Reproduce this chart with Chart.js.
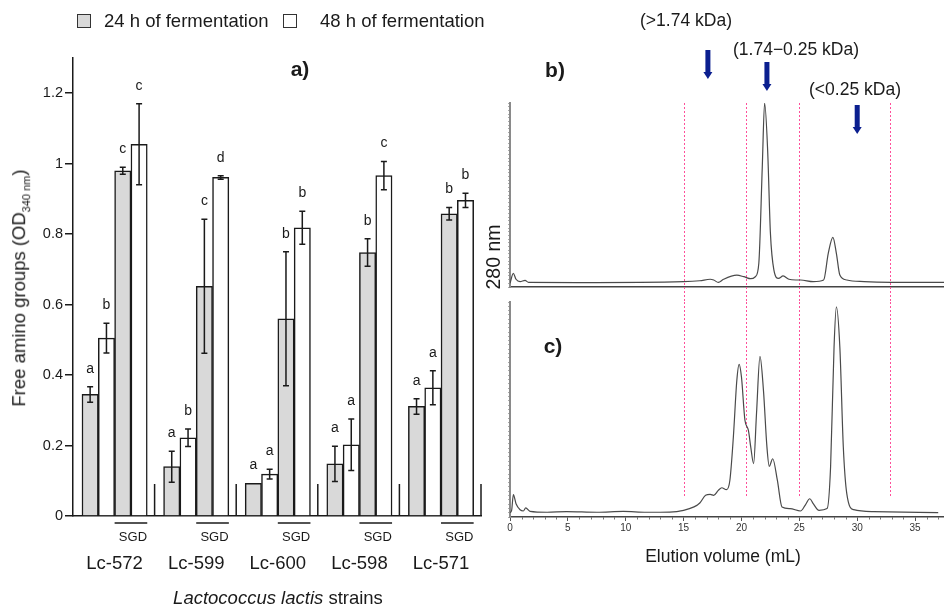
<!DOCTYPE html>
<html>
<head>
<meta charset="utf-8">
<script src="https://cdn.jsdelivr.net/npm/chart.js@4.4.1/dist/chart.umd.min.js"></script>
<style>
body { margin: 0; background: #fff; font-family: Arial, "Liberation Sans", sans-serif; color: #1a1a1a; }
#page { position: relative; width: 944px; height: 610px; overflow: hidden; }
canvas { position: absolute; }
.c { position: absolute; white-space: nowrap; transform: translate(-50%, -50%); line-height: 1; }
.l { position: absolute; white-space: nowrap; transform: translateY(-50%); line-height: 1; }
.box { position: absolute; width: 14px; height: 14px; border: 1px solid #333; box-sizing: border-box; }
</style>
</head>
<body>
<div id="page">
  <canvas id="bars" width="490" height="610" style="left:0;top:0"></canvas>
  <canvas id="chromB" width="444" height="302" style="left:500px;top:0"></canvas>
  <canvas id="chromC" width="444" height="246" style="left:500px;top:294px"></canvas>

  <div class="box" style="left:77px;top:14px;background:#d9d9d9"></div>
  <div class="l" style="left:104px;top:21px;font-size:18.5px">24 h of fermentation</div>
  <div class="box" style="left:283px;top:14px;background:#fff"></div>
  <div class="l" style="left:320px;top:21px;font-size:18.5px">48 h of fermentation</div>

  <div class="c" style="left:300px;top:68px;font-size:21px;font-weight:bold">a)</div>
  <div class="c" style="left:21px;top:288px;font-size:18.5px;transform:translate(-50%,-50%) rotate(-90deg)">Free amino groups (OD<sub style="font-size:11px">340 nm</sub>)</div>
  <div class="c" style="left:278px;top:598px;font-size:18.5px"><i>Lactococcus lactis</i> strains</div>

  <div class="c" style="left:555px;top:69px;font-size:21px;font-weight:bold">b)</div>
  <div class="c" style="left:553px;top:345px;font-size:21px;font-weight:bold">c)</div>
  <div class="c" style="left:686px;top:21px;font-size:17.5px">(&gt;1.74 kDa)</div>
  <div class="c" style="left:796px;top:50px;font-size:17.5px">(1.74&minus;0.25 kDa)</div>
  <div class="c" style="left:855px;top:90px;font-size:17.5px">(&lt;0.25 kDa)</div>
  <div class="c" style="left:494px;top:257px;font-size:19.5px;transform:translate(-50%,-50%) rotate(-90deg)">280 nm</div>
  <div class="c" style="left:723px;top:557px;font-size:17.5px">Elution volume (mL)</div>
</div>

<script>
// panel a) - free amino groups, each strain: [broth, SGD]
var strains = ["Lc-572", "Lc-599", "Lc-600", "Lc-598", "Lc-571"];
var h24 = [0.345, 0.980, 0.140, 0.652, 0.093, 0.560, 0.148, 0.748, 0.311, 0.858];
var h24Err = [0.022, 0.010, 0.044, 0.190, 0, 0.190, 0.050, 0.039, 0.022, 0.018];
var h24Letters = ["a", "c", "a", "c", "a", "b", "a", "b", "a", "b"];
var h48 = [0.505, 1.055, 0.222, 0.961, 0.119, 0.818, 0.202, 0.966, 0.364, 0.896];
var h48Err = [0.042, 0.115, 0.025, 0.005, 0.014, 0.047, 0.073, 0.040, 0.048, 0.020];
var h48Letters = ["b", "c", "b", "d", "a", "b", "a", "c", "a", "b"];
var yTicks = [0, 0.2, 0.4, 0.6, 0.8, 1, 1.2];

// panels b) and c) - chromatograms (mL, relative absorbance)
var elutionB = [0.0, 0.29, 0.52, 0.87, 1.3, 1.6, 6.0, 15.0, 16.4, 17.3, 17.6, 18.0, 18.45, 19.6, 20.2, 20.8, 21.2, 21.5, 21.8, 22.0, 22.26, 22.5, 22.8, 23.2, 23.6, 24.1, 24.7, 25.1, 26.2, 27.1, 27.5, 27.9, 28.2, 28.5, 29.1, 30.6, 32.9, 37.5];
var absB = [2.0, 7.4, 4.2, 2.9, 3.6, 2.5, 2.4, 2.9, 3.4, 4.2, 3.8, 2.5, 4.2, 6.4, 5.6, 4.5, 5.6, 12.9, 65.5, 100, 74.6, 29.4, 9.3, 4.7, 6.0, 4.2, 3.8, 3.8, 2.9, 3.8, 18.3, 27.0, 18.3, 6.5, 3.8, 2.9, 2.5, 2.5];
var elutionC = [0.0, 0.14, 0.29, 0.52, 0.87, 1.15, 1.36, 1.73, 3.2, 4.9, 7.5, 9.8, 11.8, 13.8, 15.0, 15.9, 16.4, 16.9, 17.3, 17.6, 18.0, 18.3, 18.7, 19.0, 19.3, 19.6, 19.8, 20.0, 20.3, 20.6, 20.8, 21.05, 21.3, 21.6, 21.9, 22.2, 22.4, 22.7, 23.1, 23.5, 24.2, 25.1, 25.5, 25.9, 26.2, 26.7, 27.4, 27.7, 28.0, 28.2, 28.5, 28.8, 29.1, 29.7, 31.4, 37.0];
var absC = [2.0, 3.1, 10.4, 6.2, 3.4, 2.8, 4.2, 2.6, 2.2, 2.5, 2.2, 2.6, 2.2, 2.3, 3.1, 4.7, 6.5, 10.1, 10.5, 10.1, 12.4, 13.6, 12.7, 17.1, 37.2, 63.6, 71.0, 65.1, 45.0, 40.3, 32.6, 24.8, 48.1, 74.7, 58.9, 32.6, 23.6, 27.1, 17.1, 4.7, 3.9, 2.8, 5.4, 8.5, 6.2, 3.1, 3.9, 23.3, 79.1, 97.7, 79.1, 32.6, 10.9, 3.4, 2.5, 2.0];
var fractionCuts = [15, 20.4, 25, 32.8];
var arrowAt = [17.1, 22.2, 30.0];

// x position of a bar pair: 5 units per strain, pair 0 = broth, pair 1 = SGD
function pairX(i) { return 5 * Math.floor(i / 2) + 2 * (i % 2) + 1.55; }
function toPoints(xs, ys) { return xs.map(function (x, i) { return { x: x, y: ys[i] }; }); }

var barExtras = {
  id: "barExtras",
  afterDatasetsDraw: function (chart) {
    var ctx = chart.ctx, xs = chart.scales.x, ys = chart.scales.y;
    var y0 = ys.getPixelForValue(0);
    var errs = [h24Err, h48Err], letters = [h24Letters, h48Letters], means = [h24, h48];
    ctx.save();
    ctx.strokeStyle = "#1a1a1a";
    ctx.fillStyle = "#1a1a1a";
    ctx.lineWidth = 1.5;
    for (var d = 0; d < 2; d++) {
      var meta = chart.getDatasetMeta(d);
      meta.data.forEach(function (bar, i) {
        var e = errs[d][i], m = means[d][i];
        var top = ys.getPixelForValue(m + e), bot = ys.getPixelForValue(m - e);
        if (e > 0) {
          ctx.beginPath();
          ctx.moveTo(bar.x, top); ctx.lineTo(bar.x, bot);
          ctx.moveTo(bar.x - 3, top); ctx.lineTo(bar.x + 3, top);
          ctx.moveTo(bar.x - 3, bot); ctx.lineTo(bar.x + 3, bot);
          ctx.stroke();
        }
        ctx.font = "14px Arial, 'Liberation Sans'";
        ctx.textAlign = "center";
        ctx.textBaseline = "middle";
        ctx.fillText(letters[d][i], bar.x, top - 18);
      });
    }
    // strain separators and SGD marks
    ctx.font = "13px Arial, 'Liberation Sans'";
    strains.forEach(function (s, g) {
      var sx = xs.getPixelForValue(5 * (g + 1));
      ctx.beginPath();
      ctx.moveTo(sx, y0); ctx.lineTo(sx, y0 - 32);
      ctx.stroke();
      var a = xs.getPixelForValue(5 * g + 2.55), b = xs.getPixelForValue(5 * g + 4.55);
      ctx.beginPath();
      ctx.moveTo(a, y0 + 7); ctx.lineTo(b, y0 + 7);
      ctx.stroke();
      ctx.fillText("SGD", (a + b) / 2 + 2, y0 + 21);
    });
    ctx.restore();
  }
};

new Chart(document.getElementById("bars"), {
  type: "bar",
  data: {
    datasets: [{
      label: "24 h of fermentation",
      data: toPoints(h24.map(function (v, i) { return pairX(i); }), h24),
      backgroundColor: "#d9d9d9",
      borderColor: "#1a1a1a",
      borderWidth: 1.5,
      barPercentage: 1,
      categoryPercentage: 1
    }, {
      label: "48 h of fermentation",
      data: toPoints(h48.map(function (v, i) { return pairX(i); }), h48),
      backgroundColor: "#ffffff",
      borderColor: "#1a1a1a",
      borderWidth: 1.5,
      barPercentage: 1,
      categoryPercentage: 1
    }]
  },
  options: {
    responsive: false,
    animation: false,
    layout: { padding: { top: 58, right: 9, left: 0, bottom: 0 } },
    plugins: { legend: { display: false }, tooltip: { enabled: false } },
    scales: {
      x: {
        type: "linear",
        offset: false,
        min: 0,
        max: 25,
        grid: { display: false, drawTicks: false, offset: false },
        border: { color: "#1a1a1a", width: 1.5 },
        afterBuildTicks: function (scale) {
          scale.ticks = strains.map(function (s, g) { return { value: 5 * g + 2.55 }; });
        },
        afterFit: function (scale) {
          scale.height = 94;
          scale.paddingLeft = 0;
          scale.paddingRight = 0;
        },
        ticks: {
          padding: 37,
          maxRotation: 0,
          autoSkip: false,
          color: "#1a1a1a",
          font: { size: 18.5, family: "Arial, 'Liberation Sans'" },
          callback: function (v, i) { return strains[i]; }
        }
      },
      y: {
        min: 0,
        max: 1.3,
        grid: { drawOnChartArea: false, tickLength: 8, color: "#1a1a1a", lineWidth: 1.5 },
        border: { color: "#1a1a1a", width: 1.5 },
        afterBuildTicks: function (scale) {
          scale.ticks = yTicks.map(function (v) { return { value: v }; });
        },
        afterFit: function (scale) { scale.width = 73; },
        ticks: {
          padding: 2,
          color: "#1a1a1a",
          font: { size: 14.5, family: "Arial, 'Liberation Sans'" },
          callback: function (v) { return String(+v.toFixed(1)); }
        }
      }
    }
  },
  plugins: [barExtras]
});

// dashed fraction limits, drawn down to a given pixel
function fractionLines(bottomFn) {
  return {
    id: "fractionLines",
    beforeDatasetsDraw: function (chart) {
      var ctx = chart.ctx, xs = chart.scales.x;
      ctx.save();
      ctx.strokeStyle = "#ff4f9a";
      ctx.lineWidth = 1;
      ctx.setLineDash([2, 2]);
      fractionCuts.forEach(function (v) {
        var px = Math.round(xs.getPixelForValue(v)) + 0.5;
        ctx.beginPath();
        ctx.moveTo(px, chart.chartArea.top);
        ctx.lineTo(px, bottomFn(chart));
        ctx.stroke();
      });
      ctx.restore();
    }
  };
}

var arrows = {
  id: "arrows",
  afterDraw: function (chart) {
    var ctx = chart.ctx, xs = chart.scales.x;
    var tops = [50, 62, 105];
    ctx.save();
    ctx.fillStyle = "#0b1f8f";
    arrowAt.forEach(function (v, i) {
      var px = xs.getPixelForValue(v), t = tops[i], len = 29;
      ctx.fillRect(px - 2.5, t, 5, len - 6);
      ctx.beginPath();
      ctx.moveTo(px - 4.5, t + len - 7);
      ctx.lineTo(px + 4.5, t + len - 7);
      ctx.lineTo(px, t + len);
      ctx.closePath();
      ctx.fill();
    });
    ctx.restore();
  }
};

var minorTicks = {
  id: "minorTicks",
  afterDraw: function (chart) {
    var ctx = chart.ctx, xs = chart.scales.x, b = chart.chartArea.bottom;
    ctx.save();
    ctx.strokeStyle = "#777";
    ctx.lineWidth = 1;
    for (var v = 1; v < 38; v++) {
      if (v % 5 === 0) continue;
      var px = Math.round(xs.getPixelForValue(v)) + 0.5;
      ctx.beginPath();
      ctx.moveTo(px, b);
      ctx.lineTo(px, b + 2.5);
      ctx.stroke();
    }
    ctx.restore();
  }
};

function chromOptions(padTop, xHeight, showLabels) {
  return {
    responsive: false,
    animation: false,
    layout: { padding: { top: padTop, right: 0, left: 0, bottom: 0 } },
    plugins: { legend: { display: false }, tooltip: { enabled: false } },
    elements: { point: { radius: 0 } },
    scales: {
      x: {
        type: "linear",
        min: 0,
        max: 37.5,
        afterFit: function (scale) {
          scale.height = xHeight;
          scale.paddingLeft = 0;
          scale.paddingRight = 0;
        },
        border: { color: "#444", width: 1.5 },
        grid: { display: showLabels, drawOnChartArea: false, drawTicks: showLabels, tickLength: 4, color: "#555" },
        ticks: {
          display: showLabels,
          stepSize: 5,
          includeBounds: false,
          padding: 1,
          maxRotation: 0,
          color: "#333",
          font: { size: 10, family: "Arial, 'Liberation Sans'" }
        }
      },
      y: {
        min: 0,
        max: 100,
        afterFit: function (scale) { scale.width = 10; },
        border: { color: "#8a8a8a", width: 2 },
        grid: { drawOnChartArea: false, tickLength: 2, color: "#aaa" },
        ticks: { display: false, stepSize: 2 }
      }
    }
  };
}

new Chart(document.getElementById("chromB"), {
  type: "line",
  data: {
    datasets: [{
      data: toPoints(elutionB, absB),
      borderColor: "#4a4a4a",
      borderWidth: 1.2,
      cubicInterpolationMode: "monotone",
      fill: false
    }]
  },
  options: chromOptions(103, 15, false),
  plugins: [fractionLines(function (c) { return c.height; }), arrows]
});

new Chart(document.getElementById("chromC"), {
  type: "line",
  data: {
    datasets: [{
      data: toPoints(elutionC, absC),
      borderColor: "#4a4a4a",
      borderWidth: 1.2,
      cubicInterpolationMode: "monotone",
      fill: false
    }]
  },
  options: chromOptions(8, 23, true),
  plugins: [fractionLines(function (c) { return 203; }), minorTicks]
});
</script>
</body>
</html>
